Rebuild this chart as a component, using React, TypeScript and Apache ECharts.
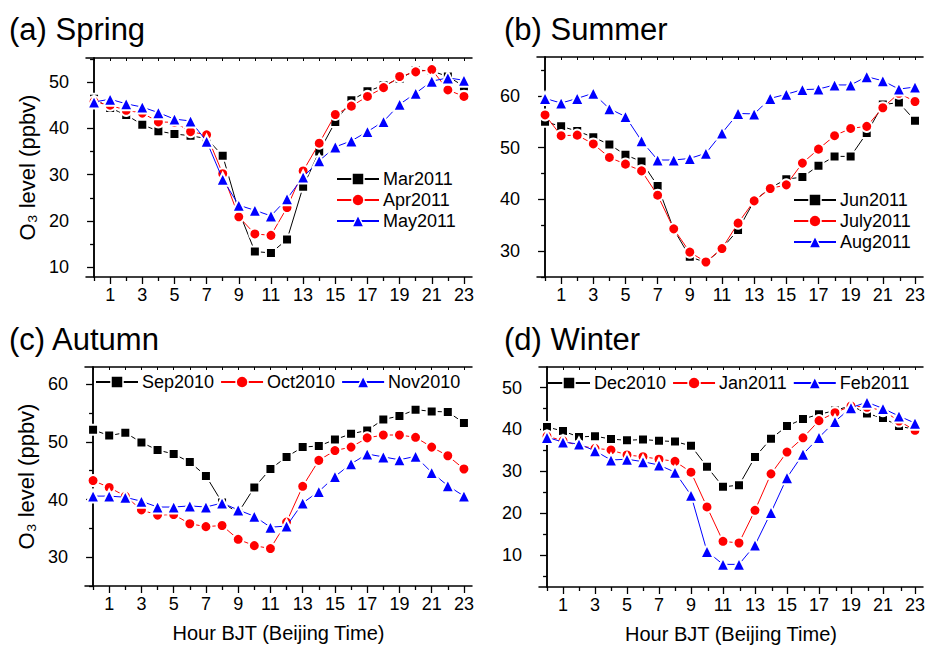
import React, { useEffect, useRef } from "react";
import * as echarts from "echarts";

const hours = [0, 1, 2, 3, 4, 5, 6, 7, 8, 9, 10, 11, 12, 13, 14, 15, 16, 17, 18, 19, 20, 21, 22, 23];
const oddHours = [1, 3, 5, 7, 9, 11, 13, 15, 17, 19, 21, 23];
const evenHours = [0, 2, 4, 6, 8, 10, 12, 14, 16, 18, 20, 22];

// (a) Spring
const mar2011 = [46.4, 44.4, 42.9, 40.8, 39.4, 38.8, 38.4, 37.8, 34.1, 22.1, 13.4, 13.1, 16.0, 27.4, 35.0, 41.4, 46.1, 48.0, 49.3, 50.7, 52.6, 52.4, 51.2, 49.1];
const apr2011 = [45.8, 45.0, 43.9, 43.3, 41.4, 41.3, 39.3, 38.6, 30.2, 20.9, 17.2, 16.9, 22.9, 30.8, 36.8, 43.0, 44.8, 46.9, 48.8, 51.2, 52.2, 52.7, 48.3, 46.9];
const may2011 = [45.7, 46.3, 45.3, 44.6, 43.4, 42.0, 41.6, 37.2, 29.0, 23.4, 22.3, 21.1, 24.8, 29.5, 33.0, 36.0, 37.3, 39.3, 41.5, 45.2, 47.6, 50.2, 50.9, 50.4];
// (b) Summer
const jun2011 = [55.0, 54.1, 53.2, 52.0, 50.6, 48.6, 47.3, 42.6, 34.2, 28.9, 27.8, 30.5, 34.1, 39.7, 42.2, 43.9, 44.3, 46.5, 48.3, 48.3, 52.8, 58.3, 58.7, 55.2];
const jul2011 = [56.3, 52.3, 52.4, 50.7, 48.1, 46.8, 45.5, 40.8, 34.3, 29.8, 27.9, 30.5, 35.4, 39.7, 42.1, 42.8, 47.0, 49.7, 52.3, 53.7, 54.1, 57.7, 60.5, 58.9];
const aug2011 = [59.5, 58.6, 59.5, 60.5, 57.5, 56.0, 51.3, 47.6, 47.6, 47.9, 48.9, 52.8, 56.6, 56.5, 59.5, 60.3, 61.2, 61.3, 62.1, 62.1, 63.7, 62.9, 61.3, 61.7];
// (c) Autumn
const sep2010 = [52.1, 51.1, 51.6, 49.9, 48.6, 47.9, 46.5, 44.1, 39.5, 37.7, 42.1, 45.3, 47.4, 49.1, 49.3, 50.4, 51.4, 52.0, 53.9, 54.5, 55.6, 55.3, 55.2, 53.3];
const oct2010 = [43.3, 42.1, 40.6, 38.2, 37.3, 37.4, 35.8, 35.3, 35.5, 33.1, 32.0, 31.5, 36.1, 42.3, 46.8, 48.5, 49.1, 50.7, 51.2, 51.2, 50.8, 49.1, 47.6, 45.3];
const nov2010 = [40.6, 40.6, 40.4, 39.7, 38.7, 38.7, 38.9, 38.7, 39.4, 38.2, 37.1, 35.2, 35.4, 39.4, 41.4, 44.0, 46.2, 47.9, 47.4, 46.9, 47.5, 44.7, 42.4, 40.6];
// (d) Winter
const dec2010 = [40.6, 39.6, 38.2, 38.4, 37.7, 37.4, 37.6, 37.3, 37.1, 36.1, 31.1, 26.3, 26.7, 33.4, 37.8, 40.8, 42.5, 43.6, 44.5, 45.7, 43.8, 42.7, 40.8, 40.0];
const jan2011 = [38.4, 37.3, 36.1, 35.5, 35.1, 33.9, 33.5, 32.9, 32.4, 29.8, 21.5, 13.3, 12.9, 20.7, 29.4, 34.6, 38.0, 42.1, 44.0, 45.6, 45.3, 44.5, 42.0, 39.8];
const feb2011 = [38.1, 37.0, 36.5, 34.9, 32.7, 32.9, 32.3, 31.5, 29.8, 24.3, 10.9, 7.8, 7.8, 12.4, 20.2, 28.5, 34.1, 38.1, 41.9, 45.2, 46.5, 45.0, 43.2, 41.5];

const panelTitles = ["(a) Spring", "(b) Summer", "(c) Autumn", "(d) Winter"];
const seriesNames = [
  ["Mar2011", "Apr2011", "May2011"],
  ["Jun2011", "July2011", "Aug2011"],
  ["Sep2010", "Oct2010", "Nov2010"],
  ["Dec2010", "Jan2011", "Feb2011"],
];
const seriesValues = [
  [mar2011, apr2011, may2011],
  [jun2011, jul2011, aug2011],
  [sep2010, oct2010, nov2010],
  [dec2010, jan2011, feb2011],
];
const yMajorTicks = [
  [10, 20, 30, 40, 50],
  [30, 40, 50, 60],
  [30, 40, 50, 60],
  [10, 20, 30, 40, 50],
];
const yMinorTicks = [
  [15, 25, 35, 45, 55],
  [25, 35, 45, 55, 65],
  [25, 35, 45, 55],
  [5, 15, 25, 35, 45],
];
const yRanges = [
  [7.9, 55.2],
  [25, 67.5],
  [25, 63],
  [2.4, 54.9],
];

const FONT = "'Liberation Sans', Arial, Helvetica, sans-serif";
const COLORS = ["#000000", "#ff0000", "#0000ff"];
const SYMBOLS = ["rect", "circle", "triangle"];
const SYMBOL_SIZES = [10, 11, 13];

const grids = [
  { left: 86, top: 58, width: 386, height: 219 },
  { left: 537, top: 57, width: 387, height: 220 },
  { left: 85, top: 367, width: 387, height: 219 },
  { left: 539, top: 367, width: 386, height: 220 },
];
const titlePos = [
  { left: 9, top: 14 },
  { left: 504, top: 14 },
  { left: 9, top: 324 },
  { left: 504, top: 324 },
];
const legendPos: any[] = [
  { left: 336, top: 170, orient: "vertical" },
  { left: 793, top: 191, orient: "vertical" },
  { left: 95, top: 373, orient: "horizontal" },
  { left: 547, top: 374, orient: "horizontal" },
];

export default function App() {
  const ref = useRef<HTMLDivElement>(null);
  useEffect(() => {
    if (!ref.current) return;
    const chart = echarts.init(ref.current, undefined, { renderer: "svg" });
    const grid: any[] = [];
    const xAxis: any[] = [];
    const yAxis: any[] = [];
    const series: any[] = [];
    const title: any[] = [];
    const legend: any[] = [];
    const line = { show: true, lineStyle: { color: "#000", width: 1.5 } };
    for (let p = 0; p < 4; p++) {
      const g = grids[p];
      const mainG = grid.length;
      grid.push({ ...g, show: false });
      grid.push({ ...g, show: false });
      const [yMin, yMax] = yRanges[p];
      const isLeft = p === 0 || p === 2;
      const isBottom = p >= 2;
      const xMain = xAxis.length;
      xAxis.push({
        type: "value", gridIndex: mainG, position: "bottom", min: -0.5, max: 23.5,
        axisLine: line,
        axisTick: { show: true, customValues: oddHours, length: 7, inside: false, lineStyle: { color: "#000", width: 1.3 } },
        axisLabel: { show: true, customValues: oddHours, fontSize: 18, color: "#000", fontFamily: FONT, margin: 9 },
        splitLine: { show: false },
        name: isBottom ? "Hour BJT (Beijing Time)" : "",
        nameLocation: "middle", nameGap: 37,
        nameTextStyle: { fontSize: 20, color: "#000", fontFamily: FONT },
      });
      xAxis.push({
        type: "value", gridIndex: mainG, position: "top", min: -0.5, max: 23.5,
        axisLine: line,
        axisTick: { show: true, customValues: hours, length: 3, inside: true, lineStyle: { color: "#000", width: 1 } },
        axisLabel: { show: false }, splitLine: { show: false },
      });
      xAxis.push({
        type: "value", gridIndex: mainG + 1, position: "bottom", min: -0.5, max: 23.5,
        axisLine: { show: false },
        axisTick: { show: true, customValues: evenHours, length: 4, inside: false, lineStyle: { color: "#000", width: 1.3 } },
        axisLabel: { show: false }, splitLine: { show: false },
      });
      const yMain = yAxis.length;
      yAxis.push({
        type: "value", gridIndex: mainG, position: "left", min: yMin, max: yMax,
        axisLine: line,
        axisTick: { show: true, customValues: yMajorTicks[p], length: 7, inside: false, lineStyle: { color: "#000", width: 1.3 } },
        axisLabel: { show: true, customValues: yMajorTicks[p], fontSize: 18, color: "#000", fontFamily: FONT, margin: 17 },
        splitLine: { show: false },
        name: isLeft ? "O₃ level (ppbv)" : "",
        nameLocation: "middle", nameGap: 48, nameRotate: 90,
        nameTextStyle: { fontSize: 22, color: "#000", fontFamily: FONT },
      });
      yAxis.push({
        type: "value", gridIndex: mainG, position: "right", min: yMin, max: yMax,
        axisLine: line,
        axisTick: { show: true, customValues: yMajorTicks[p].concat(yMinorTicks[p]), length: 3, inside: true, lineStyle: { color: "#000", width: 1 } },
        axisLabel: { show: false }, splitLine: { show: false },
      });
      yAxis.push({
        type: "value", gridIndex: mainG + 1, position: "left", min: yMin, max: yMax,
        axisLine: { show: false },
        axisTick: { show: true, customValues: yMinorTicks[p], length: 4, inside: false, lineStyle: { color: "#000", width: 1.3 } },
        axisLabel: { show: false }, splitLine: { show: false },
      });
      title.push({
        text: panelTitles[p], ...titlePos[p], padding: 0,
        textStyle: { fontSize: 31, fontWeight: "normal", color: "#000", fontFamily: FONT },
      });
      legend.push({
        ...legendPos[p],
        data: seriesNames[p],
        itemWidth: 42, itemHeight: 15,
        itemGap: legendPos[p].orient === "vertical" ? 3 : 6,
        itemStyle: { borderWidth: 1.5, borderColor: "#ffffff" },
        textStyle: { fontSize: 18, color: "#000", fontFamily: FONT, padding: [0, 0, 0, -1] },
        padding: 0,
      });
      for (let s = 0; s < 3; s++) {
        series.push({
          type: "line",
          name: seriesNames[p][s],
          xAxisIndex: xMain, yAxisIndex: yMain,
          data: hours.map((h, i) => [h, seriesValues[p][s][i]]),
          symbol: SYMBOLS[s], symbolSize: SYMBOL_SIZES[s],
          showSymbol: true,
          lineStyle: { color: COLORS[s], width: 1 },
          itemStyle: { color: COLORS[s], borderColor: "#ffffff", borderWidth: 2 },
          z: 2 + s,
        });
      }
    }
    chart.setOption({
      animation: false,
      backgroundColor: "#fff",
      textStyle: { fontFamily: FONT },
      title, legend, grid, xAxis, yAxis, series,
    });
    return () => chart.dispose();
  }, []);
  return <div ref={ref} style={{ position: "fixed", left: 0, top: 0, width: 928, height: 646 }} />;
}
